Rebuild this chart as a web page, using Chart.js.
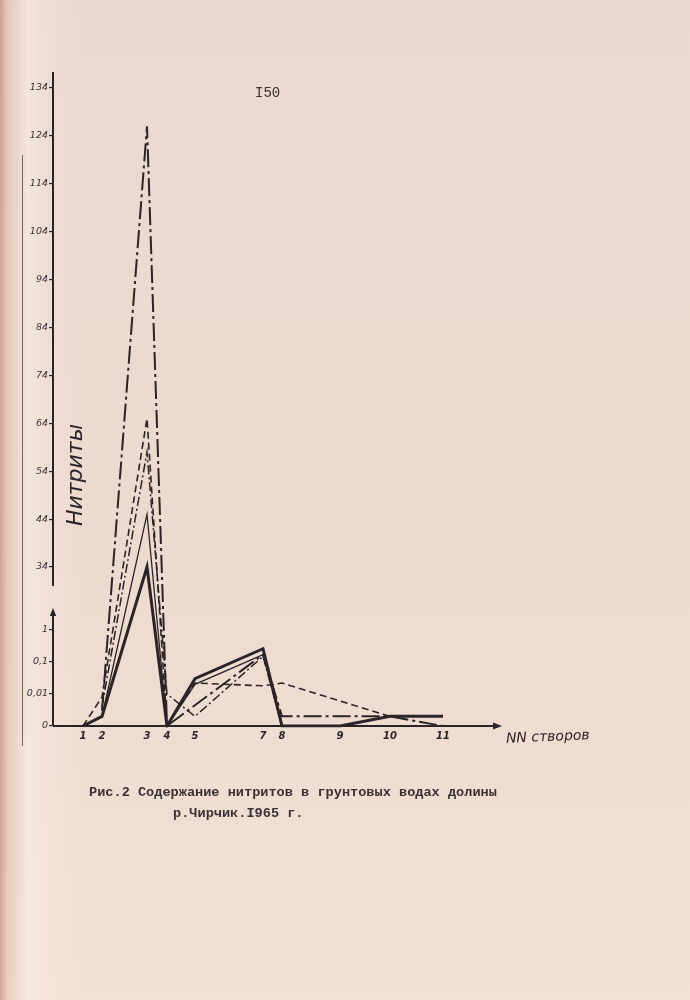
<!DOCTYPE html>
<html>
<head>
<meta charset="utf-8">
<script src="https://cdn.jsdelivr.net/npm/chart.js@4.4.1/dist/chart.umd.min.js"></script>
<style>
  html, body { margin: 0; padding: 0; background: #eedbd0; }
  canvas { display: block; }
</style>
</head>
<body>
<canvas id="c" width="690" height="1000" style="width:690px;height:1000px"></canvas>
<script>
// ---------------- data ----------------
const stations    = ['1', '2', '3', '4', '5', '7', '8', '9', '10', '11'];
const stationPos  = [3.0, 4.9, 9.4, 11.4, 14.2, 21.0, 22.9, 28.7, 33.7, 39.0]; // position along the valley (drawing units)

const seriesThick    = [0,    0.002, 34,  0,    0.03,  0.26,  0,     0,     0.002, 0.002];
const seriesThin     = [null, 0.002, 45,  0,    0.02,  0.17,  0,     null,  null,  null];
const seriesDashed   = [0,    0.008, 65,  0,    0.022, 0.018, 0.022, null,  0.002, null];
const seriesDashDot  = [null, 0.003, 126, 0,    null,  0.17,  0.002, 0.002, 0.002, 0];
const seriesDashDotO = [null, 0.004, 58,  0.01, 0.002, 0.15,  0,     null,  null,  null];

const yTickValues = [0, 0.01, 0.1, 1, 34, 44, 54, 64, 74, 84, 94, 104, 114, 124, 134];
const yTickLabels = ['0', '0,01', '0,1', '1', '34', '44', '54', '64', '74', '84', '94', '104', '114', '124', '134'];

const yTitle = 'Нитриты';
const xTitle = 'NN створов';
const pageNumber = 'I50';
const captionLine1 = 'Рис.2 Содержание нитритов в грунтовых водах долины';
const captionLine2 = 'р.Чирчик.I965 г.';

// ---------------- broken (log + linear) scale ----------------
const INK = '#2a2327';
const U_LOG_DEC = 32;     // units per decade in lower (log) part
const U_ONE = 96;         // position of value 1
const U_34 = 159;         // position of value 34 (start of linear part)
const U_PER = 4.79;       // units per 1 in upper linear part
const U_MAX = 654;
const V_MAX = 34 + (U_MAX - U_34) / U_PER;

function toU(v) {
  if (v <= 0.001) return 0;
  if (v <= 1) return U_LOG_DEC * (Math.log10(v) + 3);
  if (v <= 34) return U_ONE + (U_34 - U_ONE) * Math.log10(v) / Math.log10(34);
  return U_34 + (v - 34) * U_PER;
}
function fromU(u) {
  if (u <= 0) return 0;
  if (u <= U_ONE) return Math.pow(10, u / U_LOG_DEC - 3);
  if (u <= U_34) return Math.pow(10, (u - U_ONE) / (U_34 - U_ONE) * Math.log10(34));
  return 34 + (u - U_34) / U_PER;
}

class BrokenScale extends Chart.LinearScale {
  determineDataLimits() { this.min = 0; this.max = V_MAX; }
  buildTicks() { return yTickValues.map(v => ({ value: v })); }
  getPixelForValue(v) {
    if (v === null || v === undefined || isNaN(v)) return NaN;
    return this.getPixelForDecimal(toU(v) / U_MAX);
  }
  getValueForPixel(p) { return fromU(this.getDecimalForPixel(p) * U_MAX); }
}
BrokenScale.id = 'broken';
BrokenScale.defaults = {};
Chart.register(BrokenScale);

// ---------------- datasets ----------------
const toPts = arr => arr.map((v, i) => ({ x: stationPos[i], y: v }));
const base = { pointRadius: 0, tension: 0, spanGaps: true, fill: false, borderColor: INK, borderJoinStyle: 'miter' };
const datasets = [
  Object.assign({}, base, { label: 'thick',    data: toPts(seriesThick),    borderWidth: 3 }),
  Object.assign({}, base, { label: 'thin',     data: toPts(seriesThin),     borderWidth: 1.3 }),
  Object.assign({}, base, { label: 'dashed',   data: toPts(seriesDashed),   borderWidth: 1.6, borderDash: [7, 4] }),
  Object.assign({}, base, { label: 'dashdot',  data: toPts(seriesDashDot),  borderWidth: 2, borderDash: [18, 4, 3, 4] }),
  Object.assign({}, base, { label: 'dashdotO', data: toPts(seriesDashDotO), borderWidth: 1.5, borderDash: [9, 3, 2, 3] })
];

// ---------------- decorations / axes ----------------
function arrowHead(ctx, x, y, dir, size) {
  ctx.save();
  ctx.translate(x, y);
  ctx.rotate(dir);
  ctx.beginPath();
  ctx.moveTo(0, 0);
  ctx.lineTo(-size, -size * 0.4);
  ctx.lineTo(-size, size * 0.4);
  ctx.closePath();
  ctx.fill();
  ctx.restore();
}

const paper = {
  id: 'paper',
  beforeDraw(chart) {
    const ctx = chart.ctx;
    const w = chart.width, h = chart.height;
    ctx.save();
    const gv = ctx.createLinearGradient(0, 0, 0, h);
    gv.addColorStop(0, '#ebd8cf');
    gv.addColorStop(0.5, '#eddacf');
    gv.addColorStop(1, '#f2e0d3');
    ctx.fillStyle = gv;
    ctx.fillRect(0, 0, w, h);
    const gh = ctx.createLinearGradient(0, 0, 80, 0);
    gh.addColorStop(0, 'rgba(200,140,125,0.75)');
    gh.addColorStop(0.1, 'rgba(220,170,150,0.35)');
    gh.addColorStop(0.35, 'rgba(255,250,245,0.35)');
    gh.addColorStop(0.56, 'rgba(255,250,245,0.15)');
    gh.addColorStop(1, 'rgba(255,255,255,0)');
    ctx.fillStyle = gh;
    ctx.fillRect(0, 0, 80, h);
    ctx.restore();
  }
};

const decor = {
  id: 'decor',
  beforeDatasetsDraw(chart) {
    const ctx = chart.ctx;
    const a = chart.chartArea;
    const y = chart.scales.y;
    ctx.save();
    ctx.fillStyle = INK;
    // page margin line
    ctx.strokeStyle = 'rgba(70,72,60,0.75)';
    ctx.lineWidth = 1;
    ctx.beginPath(); ctx.moveTo(22.5, 155); ctx.lineTo(22.5, 746); ctx.stroke();
    ctx.strokeStyle = INK;
    // broken y axis
    const upperEnd = y.getPixelForValue(34) + 19;
    const lowerTop = y.getPixelForValue(1) - 22;
    ctx.lineWidth = 2;
    ctx.beginPath(); ctx.moveTo(a.left, a.top); ctx.lineTo(a.left, upperEnd); ctx.stroke();
    ctx.beginPath(); ctx.moveTo(a.left, a.bottom); ctx.lineTo(a.left, lowerTop + 4); ctx.stroke();
    arrowHead(ctx, a.left, lowerTop, -Math.PI / 2, 8);
    // x axis
    ctx.beginPath(); ctx.moveTo(a.left, a.bottom); ctx.lineTo(a.right - 4, a.bottom); ctx.stroke();
    arrowHead(ctx, a.right + 2, a.bottom, 0, 9);
    ctx.restore();
  },
  afterDraw(chart) {
    const ctx = chart.ctx;
    const a = chart.chartArea;
    ctx.save();
    ctx.fillStyle = INK;
    // y title
    ctx.save();
    ctx.translate(a.left + 23, 475);
    ctx.rotate(-Math.PI / 2);
    ctx.font = 'italic 22px "DejaVu Sans"';
    ctx.textAlign = 'center';
    ctx.textBaseline = 'middle';
    ctx.fillText(yTitle, 0, 0);
    ctx.restore();
    // x title
    ctx.save();
    ctx.translate(a.right + 6, a.bottom + 13);
    ctx.rotate(-0.04);
    ctx.font = 'italic 14px "DejaVu Sans"';
    ctx.textAlign = 'left';
    ctx.textBaseline = 'middle';
    ctx.fillText(xTitle, 0, 0);
    ctx.restore();
    // page number
    ctx.font = '14px "Liberation Mono"';
    ctx.textAlign = 'left';
    ctx.textBaseline = 'middle';
    ctx.fillStyle = '#3a3034';
    ctx.fillText(pageNumber, 255, 93);
    // caption
    ctx.font = 'bold 13.6px "Liberation Mono"';
    ctx.fillText(captionLine1, 89, 793);
    ctx.fillText(captionLine2, 173, 814);
    ctx.restore();
  }
};

new Chart(document.getElementById('c'), {
  type: 'line',
  data: { datasets },
  options: {
    responsive: false,
    animation: false,
    events: [],
    layout: { padding: { left: 0, top: 72, right: 190, bottom: 244 } },
    plugins: { legend: { display: false }, tooltip: { enabled: false } },
    scales: {
      x: {
        type: 'linear',
        min: 0,
        max: 44.7,
        afterFit: s => { s.height = 30; },
        afterBuildTicks: s => { s.ticks = stationPos.map(v => ({ value: v })); },
        grid: { display: false, drawTicks: false },
        border: { display: false },
        ticks: {
          autoSkip: false, maxRotation: 0, padding: 4,
          color: INK,
          font: { family: 'DejaVu Sans', size: 10, style: 'italic', weight: 'bold' },
          callback: (v, i) => stations[i]
        }
      },
      y: {
        type: 'broken',
        afterFit: s => { s.width = 53; },
        grid: { display: true, drawOnChartArea: false, drawTicks: true, tickLength: 4, color: INK, lineWidth: 1.2 },
        border: { display: false },
        ticks: {
          autoSkip: false, padding: 1,
          color: '#3a3035',
          font: { family: 'DejaVu Sans', size: 9.5, style: 'italic' },
          callback: (v, i) => yTickLabels[i]
        }
      }
    }
  },
  plugins: [paper, decor]
});
</script>
</body>
</html>
